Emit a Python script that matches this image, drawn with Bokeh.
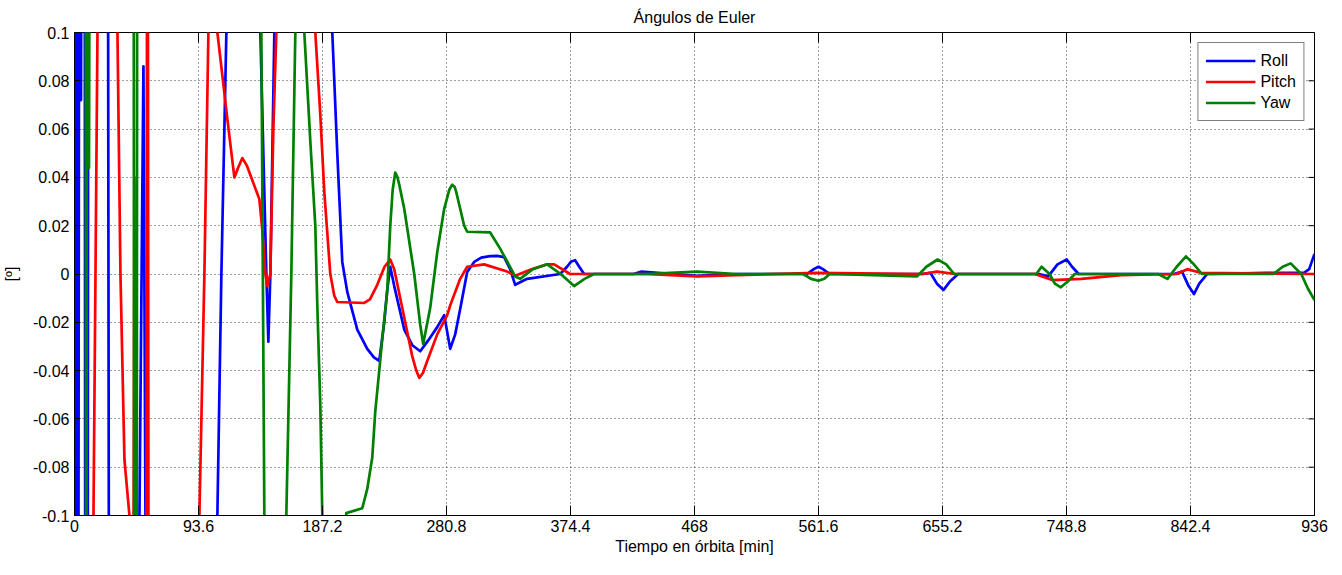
from bokeh.plotting import figure
from bokeh.models import (Range1d, FixedTicker, Legend, LegendItem,
                          CustomJSTickFormatter)
from bokeh.embed import file_html
from bokeh.resources import INLINE

# ---------------- data ----------------
roll_t = [0, 1.51, 2.64, 3.77, 4.90, 6.03, 7.54, 8.30, 9.80, 10.56, 24.89, 26.40,
          48.27, 49.02, 52.04, 53.55, 54.30, 107.10, 107.85, 110.87, 114.64, 115.40,
          139.53, 140.29, 144.82, 146.32, 147.83, 150.85, 151.60, 193.84, 194.59,
          198.36, 202.13, 205.90, 213.45, 220.99, 226.0, 230.04, 233.81, 236.07, 238.34,
          241.35, 248.90, 255.0, 260.96, 267.0, 273.79, 279.06, 283.59, 287.36, 291.13,
          296.41, 301.69, 307.0, 313.76, 319.0, 324.32, 328.84, 332.62, 336.0, 341.67,
          366.56, 371.8, 375.0, 377.87, 381.0, 384.66, 422, 428, 470, 500, 545, 553,
          558, 561.6, 565, 570, 640, 646, 651, 656, 661, 667,
          728, 735, 742, 749, 753, 758, 830, 836, 841, 845, 849, 855, 900, 928, 932, 936]
roll_v = [-0.3, 0.3, -0.3, 0.3, 0.072, 0.3, 0.3, -0.3, -0.3, 0.3, 0.3, -0.3,
          -0.3, -0.1, 0.086, -0.1, -0.3, -0.3, -0.1, 0.0, 0.1, 0.3,
          0.3, 0.1, 0.0, -0.028, 0.0, 0.1, 0.3, 0.3, 0.1,
          0.05, 0.005, -0.0074, -0.023, -0.031, -0.0345, -0.036, -0.02, -0.0066, 0.003,
          -0.005, -0.023, -0.0295, -0.032, -0.0275, -0.022, -0.017, -0.031, -0.025, -0.0145,
          0.0008, 0.005, 0.0068, 0.0074, 0.0075, 0.007, 0.002, -0.0045, -0.0035, -0.002,
          0.0, 0.003, 0.0052, 0.0057, 0.003, 0.0, 0.0, 0.001, -0.0008, 0.0, 0.0, 0.0,
          0.002, 0.003, 0.002, 0.0, 0.0, 0.0005, -0.004, -0.0066, -0.003, 0.0,
          0.0, -0.001, 0.004, 0.006, 0.003, 0.0, 0.0, 0.001, -0.005, -0.0083, -0.004, 0.0,
          0.0005, 0.0005, 0.002, 0.0083]

pitch_t = [0, 13.58, 14.33, 17.35, 18.10, 31.68, 32.43, 34.69, 37.71, 41.48, 42.24,
           43.75, 45.25, 46.76, 53.93, 55.06, 56.19, 93.52, 94.28, 98.05, 101.07,
           101.82, 107.10, 107.85, 113.13, 115.40, 120.68, 123.5, 126.71, 130.0,
           139.53, 141.80, 144.06, 145.57, 147.83, 150.09, 152.35, 153.11, 181.02,
           181.77, 185.54, 188.56, 193.08, 196.10, 198.36, 218.73, 223.0, 228.53,
           234.0, 238.34, 241.35, 248.90, 254.93, 258.0, 260.21, 263.0, 266.25,
           273.79, 281.33, 283.59, 291.13, 296.41, 309.23, 326.58, 332.62, 345.0,
           356.75, 362.03, 374.10, 430, 470, 500, 560, 640, 651, 665, 725, 738, 760,
           790, 832, 840, 850, 936]
pitch_v = [-0.3, -0.3, -0.1, 0.1, 0.3, 0.3, 0.1, 0.0, -0.077, -0.1, -0.3,
           -0.3, 0.04, -0.3, -0.3, 0.3, -0.3, -0.3, -0.1, 0.0, 0.1,
           0.3, 0.3, 0.1, 0.075, 0.064, 0.04, 0.044, 0.048, 0.045,
           0.031, 0.018, 0.0, -0.005, 0.0, 0.06, 0.1, 0.3, 0.3,
           0.1, 0.066, 0.034, 0.0, -0.009, -0.0116, -0.012, -0.0105, -0.0045,
           0.003, 0.006, 0.002, -0.018, -0.034, -0.040, -0.043, -0.041, -0.036,
           -0.025, -0.017, -0.013, -0.002, 0.003, 0.004, 0.001, -0.0007, 0.002,
           0.004, 0.004, 0.0, 0.0, -0.001, -0.0005, 0.0005, 0.0, 0.001, 0.0, 0.0,
           -0.0025, -0.002, -0.0005, 0.0, 0.002, 0.0005, 0.0]

yaw_t = [0, 8.30, 8.90, 9.50, 10.94, 12.07, 44.50, 45.25, 46.76, 47.52, 140.29,
         141.04, 143.30, 144.06, 159.14, 159.90, 163.67, 166.68, 167.44, 172.72,
         173.47, 178.0, 181.77, 183.28, 185.54, 187.05, 187.80, 203.64, 205.15,
         217.22, 220.99, 224.76, 227.02, 230.04, 232.30, 236.07, 238.34, 240.2, 242.11,
         243.8, 245.13, 248.90, 256.44, 260.96, 263.22, 268.50, 273.79, 279.06, 283.0,
         285.10, 287.0, 288.12, 291.13, 294.15, 296.41, 313.76, 321.30, 328.09, 332.62,
         336.39, 346.0, 356.75, 367.0, 377.12, 385.0, 392.2, 430, 470, 500, 550, 556,
         561.6, 566, 570, 636, 643, 651.5, 658, 664,
         726, 730, 736, 740, 744.5, 750, 755, 818, 825, 832, 839, 845, 851,
         905, 912, 918, 926, 931, 936]
yaw_v = [0.3, 0.3, -0.3, 0.3, 0.044, 0.3, 0.3, -0.3, -0.3, 0.3, 0.3,
         0.1, -0.1, -0.3, -0.3, -0.1, 0.0, 0.1, 0.3, 0.3,
         0.1, 0.055, 0.02, -0.013, -0.054, -0.1, -0.3, -0.3, -0.099,
         -0.097, -0.089, -0.076, -0.057, -0.04, -0.027, -0.007, 0.02, 0.035, 0.042,
         0.040, 0.037, 0.027, 0.0, -0.021, -0.029, -0.014, 0.009, 0.027, 0.035,
         0.037, 0.036, 0.034, 0.027, 0.02, 0.0175, 0.0172, 0.0105, 0.0037, -0.001,
         -0.002, 0.002, 0.004, 0.0, -0.005, -0.002, 0.0, 0.0, 0.001, 0.0, 0.0, -0.002,
         -0.0028, -0.002, 0.0, -0.001, 0.003, 0.006, 0.004, 0.0,
         0.0, 0.003, 0.0, -0.004, -0.0055, -0.003, 0.0, 0.0, -0.002, 0.003, 0.0073, 0.004, 0.0,
         0.0, 0.003, 0.0044, 0.0, -0.006, -0.0108]

series_names = ["Roll", "Pitch", "Yaw"]
series_colors = ["#0000ff", "#ff0000", "#008000"]

x_ticks = [0, 93.6, 187.2, 280.8, 374.4, 468, 561.6, 655.2, 748.8, 842.4, 936]
x_tick_labels = ["0", "93.6", "187.2", "280.8", "374.4", "468", "561.6", "655.2",
                 "748.8", "842.4", "936"]
y_ticks = [-0.1, -0.08, -0.06, -0.04, -0.02, 0, 0.02, 0.04, 0.06, 0.08, 0.1]
y_tick_labels = ["-0.1", "-0.08", "-0.06", "-0.04", "-0.02", "0", "0.02", "0.04",
                 "0.06", "0.08", "0.1"]

FONT = "Liberation Sans"
X_MIN, X_MAX, Y_MIN, Y_MAX = 0, 936, -0.1, 0.1

p = figure(frame_width=1240, frame_height=483,
           x_range=Range1d(X_MIN, X_MAX), y_range=Range1d(Y_MIN, Y_MAX),
           output_backend="svg", toolbar_location=None,
           min_border_left=69, min_border_right=17, min_border_top=32,
           min_border_bottom=45, title="Ángulos de Euler")

p.title.align = "center"
p.title.text_font = FONT
p.title.text_font_size = "16px"
p.title.text_font_style = "normal"
p.title.text_color = "black"
p.title.standoff = 13

p.background_fill_color = "white"
p.border_fill_color = "white"
p.outline_line_color = "black"
p.outline_line_width = 1


def fmt(ticks, labels):
    return CustomJSTickFormatter(args=dict(t=ticks, l=labels), code="""
        let best = 0, d = Infinity;
        for (let i = 0; i < t.length; i++) {
            const dd = Math.abs(t[i] - tick);
            if (dd < d) { d = dd; best = i; }
        }
        return l[best];
    """)


xt = FixedTicker(ticks=x_ticks)
yt = FixedTicker(ticks=y_ticks)

X_TICK_PX, Y_TICK_PX = 10, 6


def style_axis(ax, ticker, formatter, tick_in):
    ax.ticker = ticker
    ax.formatter = formatter
    ax.major_tick_in = tick_in
    ax.major_tick_out = 0
    ax.minor_tick_line_color = None
    ax.axis_line_color = "black"
    ax.major_tick_line_color = "black"
    ax.major_label_text_font = FONT
    ax.major_label_text_font_size = "16px"
    ax.major_label_text_color = "black"
    ax.axis_label_text_font = FONT
    ax.axis_label_text_font_size = "16px"
    ax.axis_label_text_font_style = "normal"
    ax.axis_label_text_color = "black"


style_axis(p.xaxis[0], xt, fmt(x_ticks, x_tick_labels), X_TICK_PX)
style_axis(p.yaxis[0], yt, fmt(y_ticks, y_tick_labels), Y_TICK_PX)
p.xaxis[0].axis_label = "Tiempo en órbita [min]"
p.yaxis[0].axis_label = "[º]"
p.xaxis[0].major_label_standoff = 4
p.yaxis[0].major_label_standoff = 5
p.xaxis[0].axis_label_standoff = 3
p.yaxis[0].axis_label_standoff = 10

for g in (p.xgrid[0], p.ygrid[0]):
    g.grid_line_color = "black"
    g.grid_line_alpha = 0.75
    g.grid_line_dash = "1 3"
    g.grid_line_width = 1
p.xgrid[0].ticker = xt
p.ygrid[0].ticker = yt

# box ticks on the top and right sides (MATLAB "box on"), derived from the tick lists
x_per_px = (X_MAX - X_MIN) / 1240
y_per_px = (Y_MAX - Y_MIN) / 483
p.segment(x0=x_ticks, x1=x_ticks, y0=[Y_MAX] * len(x_ticks),
          y1=[Y_MAX - X_TICK_PX * y_per_px] * len(x_ticks),
          line_color="black", line_width=1)
p.segment(x0=[X_MAX] * len(y_ticks), x1=[X_MAX - Y_TICK_PX * x_per_px] * len(y_ticks),
          y0=y_ticks, y1=y_ticks, line_color="black", line_width=1)

renderers = []
for (t, v), color in zip([(roll_t, roll_v), (pitch_t, pitch_v), (yaw_t, yaw_v)],
                         series_colors):
    r = p.line(t, v, line_color=color, line_width=2.7, line_join="round")
    renderers.append(r)

legend = Legend(items=[LegendItem(label=n, renderers=[r])
                       for n, r in zip(series_names, renderers)],
                location="top_right")
legend.margin = 10
legend.padding = 7
legend.spacing = 0
legend.glyph_width = 50
legend.glyph_height = 21
legend.label_height = 21
legend.label_standoff = 5
legend.label_text_font = FONT
legend.label_text_font_size = "16px"
legend.label_text_color = "black"
legend.border_line_color = "black"
legend.border_line_width = 1
legend.background_fill_color = "white"
legend.background_fill_alpha = 1
p.add_layout(legend)

open("out.html", "w").write(file_html(p, INLINE))
